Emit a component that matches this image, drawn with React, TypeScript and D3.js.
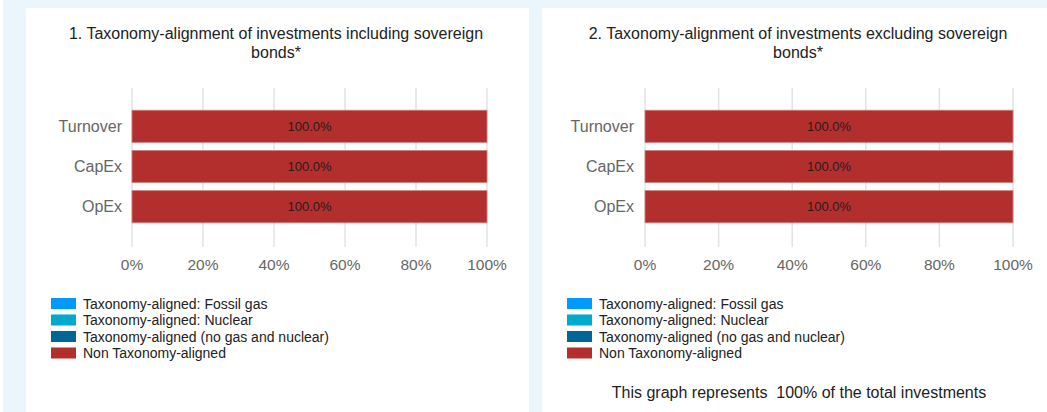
import React from "react";
import * as d3 from "d3";

const categories = ["Turnover", "CapEx", "OpEx"];
const seriesNames = [
  "Taxonomy-aligned: Fossil gas",
  "Taxonomy-aligned: Nuclear",
  "Taxonomy-aligned (no gas and nuclear)",
  "Non Taxonomy-aligned",
];
const seriesColors = ["#0099FF", "#00AACC", "#006699", "#B32F2D"];
// values per category, in series order (percent)
const incl = [
  [0, 0, 0, 100],
  [0, 0, 0, 100],
  [0, 0, 0, 100],
];
const excl = [
  [0, 0, 0, 100],
  [0, 0, 0, 100],
  [0, 0, 0, 100],
];
const xTicks = [0, 20, 40, 60, 80, 100];
const titles = [
  ["1. Taxonomy-alignment of investments including sovereign", "bonds*"],
  ["2. Taxonomy-alignment of investments excluding sovereign", "bonds*"],
];
const footer = "This graph represents  100% of the total investments";

const FONT = "'Liberation Sans', Arial, sans-serif";

function Panel({ x0, x1, data, title, labelRight, legendX, titleX }: any) {
  const x = d3.scaleLinear().domain([0, 100]).range([x0, x1]);
  const y = d3.scaleBand<string>().domain(categories).range([107, 226]).paddingInner(0.2).paddingOuter(0.08);
  const bars: any[] = [];
  data.forEach((row: number[], ci: number) => {
    let acc = 0;
    row.forEach((v, si) => {
      if (v > 0) {
        bars.push({ cat: categories[ci], si, start: acc, end: acc + v, v });
      }
      acc += v;
    });
  });
  return (
    <g>
      {title.map((t: string, i: number) => (
        <text key={i} x={titleX} y={39 + i * 19} textAnchor="middle" fontSize={16} fill="#222">{t}</text>
      ))}
      {xTicks.map((t) => (
        <line key={t} x1={x(t)} x2={x(t)} y1={88} y2={247} stroke="#e3e3e3" strokeWidth={1.5} />
      ))}
      {bars.map((b, i) => (
        <g key={i}>
          <rect x={x(b.start)} y={y(b.cat)!} width={x(b.end) - x(b.start)} height={y.bandwidth()}
            fill={seriesColors[b.si]} stroke="#d08080" strokeWidth={0.8} />
          <text x={(x(b.start) + x(b.end)) / 2} y={y(b.cat)! + y.bandwidth() / 2 + 4.5} textAnchor="middle"
            fontSize={13} fill="#2a1a1a">{d3.format(".1f")(b.v) + "%"}</text>
        </g>
      ))}
      {categories.map((c) => (
        <text key={c} x={labelRight} y={y(c)! + y.bandwidth() / 2 + 5.5} textAnchor="end" fontSize={16} fill="#666">{c}</text>
      ))}
      {xTicks.map((t) => (
        <text key={t} x={x(t)} y={270} textAnchor="middle" fontSize={15.5} fill="#666">{t + "%"}</text>
      ))}
      {seriesNames.map((s, i) => (
        <g key={s}>
          <rect x={legendX} y={298 + i * 16.5} width={25} height={11} fill={seriesColors[i]} />
          <text x={legendX + 32} y={308.5 + i * 16.5} fontSize={14} fill="#222">{s}</text>
        </g>
      ))}
    </g>
  );
}

export default function App() {
  return (
    <svg width={1047} height={412} style={{ position: "absolute", left: 0, top: 0, fontFamily: FONT }}>
      <rect x={0} y={0} width={1047} height={412} fill="#EAF6FC" />
      <rect x={0} y={0} width={3} height={412} fill="#ffffff" />
      <rect x={26} y={8} width={503} height={404} fill="#ffffff" />
      <rect x={542} y={8} width={505} height={404} fill="#ffffff" />
      <Panel x0={132} x1={487} data={incl} title={titles[0]} labelRight={122} legendX={51} titleX={276} />
      <Panel x0={645} x1={1013} data={excl} title={titles[1]} labelRight={634} legendX={567} titleX={798} />
      <text x={799} y={398} textAnchor="middle" fontSize={16} fill="#222" style={{ whiteSpace: "pre" }}>{footer}</text>
    </svg>
  );
}
